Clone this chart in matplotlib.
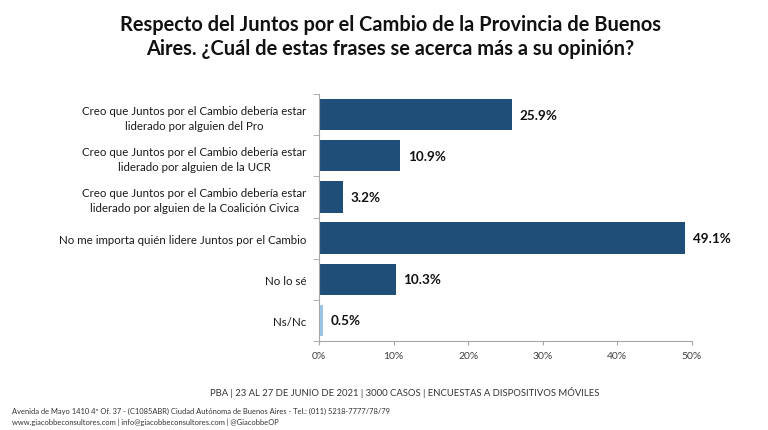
import matplotlib
matplotlib.use("Agg")
import matplotlib.pyplot as plt

categories = [
    "Creo que Juntos por el Cambio debería estar\nliderado por alguien del Pro",
    "Creo que Juntos por el Cambio debería estar\nliderado por alguien de la UCR",
    "Creo que Juntos por el Cambio debería estar\nliderado por alguien de la Coalición Civica",
    "No me importa quién lidere Juntos por el Cambio",
    "No lo sé",
    "Ns/Nc",
]
values = [25.9, 10.9, 3.2, 49.1, 10.3, 0.5]
value_labels = ["25.9%", "10.9%", "3.2%", "49.1%", "10.3%", "0.5%"]
xticks = [0, 10, 20, 30, 40, 50]
xtick_labels = ["0%", "10%", "20%", "30%", "40%", "50%"]
colors = ["#1f4e79"] * 5 + ["#9dc3e6"]

plt.rcParams['font.family'] = ['Lato', 'DejaVu Sans']

fig = plt.figure(figsize=(7.68, 4.31), dpi=100)
ax = fig.add_axes([319/768, 1-342/431, (692-319)/768, (342-95)/431])

ypos = list(range(len(categories)))
ax.barh(ypos, values, height=0.76, color=colors)
ax.set_ylim(len(categories)-0.5, -0.5)
ax.set_xlim(0, 50)
ax.set_xticks(xticks)
ax.set_xticklabels(xtick_labels, fontsize=7.5, color="#404040")
ax.set_yticks(ypos)
ax.set_yticklabels(categories, fontsize=8.3, color="#1a1a1a", ha="right", linespacing=1.45)
for lbl in ax.get_yticklabels():
    lbl.set_multialignment("center")
ax.tick_params(axis='y', length=0, pad=9)
ax.tick_params(axis='x', length=3, color="#a6a6a6", pad=4)
# category boundary ticks
ax.set_yticks([i - 0.5 for i in range(len(categories)+1)], minor=True)
ax.tick_params(axis='y', which='minor', length=4, color="#a6a6a6")
for s in ["top", "right"]:
    ax.spines[s].set_visible(False)
ax.spines["left"].set_color("#a6a6a6")
ax.spines["bottom"].set_color("#a6a6a6")

for y, v, lab in zip(ypos, values, value_labels):
    ax.text(v + 1.0, y, lab, va="center", ha="left", fontsize=9.7, fontweight="bold", color="#111111")

fig.text(0.508, 1-37/431, "Respecto del Juntos por el Cambio de la Provincia de Buenos\nAires. ¿Cuál de estas frases se acerca más a su opinión?",
         ha="center", va="center", fontsize=14.4, fontweight="bold", color="#111111", linespacing=1.3)

fig.text(405/768, 1-393/431, "PBA | 23 AL 27 DE JUNIO DE 2021 | 3000 CASOS | ENCUESTAS A DISPOSITIVOS MÓVILES",
         ha="center", va="center", fontsize=6.8, color="#333333")
fig.text(12/768, 1-411/431, "Avenida de Mayo 1410 4º Of. 37 - (C1085ABR) Ciudad Autónoma de Buenos Aires - Tel.: (011) 5218-7777/78/79",
         ha="left", va="center", fontsize=5.4, color="#333333")
fig.text(12/768, 1-422/431, "www.giacobbeconsultores.com | info@giacobbeconsultores.com | @GiacobbeOP",
         ha="left", va="center", fontsize=5.4, color="#333333")

fig.savefig("out.png", dpi=100)
